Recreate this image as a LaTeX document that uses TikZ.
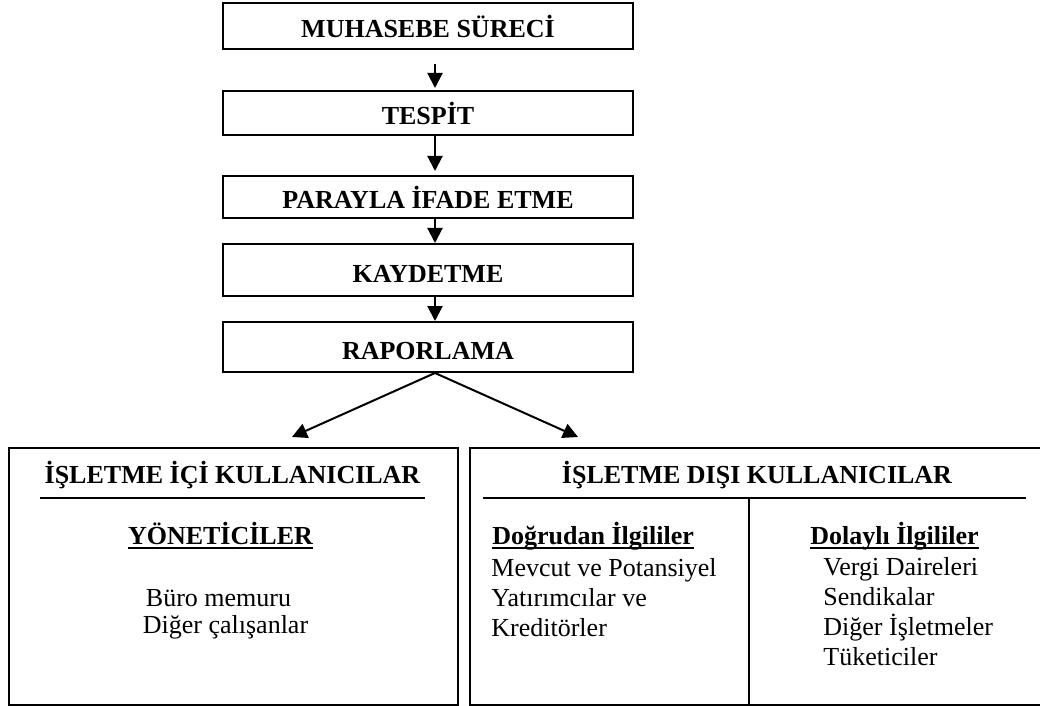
\documentclass[tikz,border=0pt]{standalone}
\usepackage{fontspec}
\setmainfont{Liberation Serif}
\usetikzlibrary{arrows.meta, positioning}

\begin{document}
\begin{tikzpicture}[x=0.5pt, y=-0.5pt,
	surec/.style={draw, line width=1pt, minimum width=205pt, inner sep=0pt, text height=12pt, text depth=0pt, font=\fontsize{13}{15}\selectfont\bfseries},
	kutu/.style={draw, line width=1pt, inner sep=0pt},
	baslik/.style={anchor=base, inner sep=0pt, font=\fontsize{13}{15}\selectfont\bfseries},
	orta/.style={anchor=base, inner sep=0pt, font=\fontsize{13}{15}\selectfont},
	altbaslik/.style={anchor=base west, inner sep=0pt, font=\fontsize{13}{15}\selectfont\bfseries},
	metin/.style={anchor=base west, inner sep=0pt, font=\fontsize{13}{15}\selectfont},
	cizgi/.style={line width=1pt},
	okcizgi/.style={line width=1pt, -{Triangle[length=7.5pt, width=7.5pt]}}]
	\useasboundingbox (0,0) rectangle (1040,706);
	\clip (0,0) rectangle (1040,706);

	% Process steps
	\node[surec, minimum height=23pt] (muhasebe) at (428,26) {MUHASEBE SÜRECİ};
	\node[surec, minimum height=22pt, below=20pt of muhasebe] (tespit) {TESPİT};
	\node[surec, minimum height=21pt, below=19.5pt of tespit] (para) {PARAYLA İFADE ETME};
	\node[surec, minimum height=26pt, below=12pt of para] (kaydet) {KAYDETME};
	\node[surec, minimum height=25pt, below=12pt of kaydet] (rapor) {RAPORLAMA};

	% Step arrows
	\draw[okcizgi] ([xshift=3.5pt, yshift=-7pt]muhasebe.south) -- ([xshift=3.5pt, yshift=1pt]tespit.north);
	\draw[okcizgi] ([xshift=3.5pt]tespit.south) -- ([xshift=3.5pt, yshift=2pt]para.north);
	\draw[okcizgi] ([xshift=3.5pt]para.south) -- ([xshift=3.5pt]kaydet.north);
	\draw[okcizgi] ([xshift=3.5pt]kaydet.south) -- ([xshift=3.5pt]rapor.north);

	% Branch arrows
	\coordinate (solUc) at (292,437);
	\coordinate (sagUc) at (578,437);
	\draw[okcizgi] ([xshift=3.5pt]rapor.south) -- (solUc);
	\draw[okcizgi] ([xshift=3.5pt]rapor.south) -- (sagUc);

	% User boxes
	\node[kutu, minimum width=224.5pt, minimum height=128.5pt] (ic) at (233.5,576.5) {};
	\node[kutu, minimum width=295pt, minimum height=128.5pt] (dis) at (765,576.5) {};

	% Internal users
	\node[baslik] (icBaslik) at (232.5,483) {İŞLETME İÇİ KULLANICILAR};
	\draw[cizgi] (40,498) -- (425,498);
	\node[baslik] (yonetici) at (220.5,544) {YÖNETİCİLER};
	\draw[cizgi] ([yshift=-2pt]yonetici.base west) -- ([yshift=-2pt]yonetici.base east);
	\node[orta] (buro) at (218.5,606) {Büro memuru};
	\node[orta] (diger) at (225.5,633) {Diğer çalışanlar};

	% External users
	\node[baslik] (disBaslik) at (757,483) {İŞLETME DIŞI KULLANICILAR};
	\draw[cizgi] (483,498) -- (1026,498);
	\coordinate (bolme) at (748.5,498);
	\draw[cizgi] (bolme) -- (bolme |- dis.south);

	% Direct
	\node[altbaslik] (dogrudan) at (492,544) {Doğrudan İlgililer};
	\draw[cizgi] ([yshift=-2pt]dogrudan.base west) -- ([yshift=-2pt]dogrudan.base east);
	\node[metin] (mevcut) at (491,576) {Mevcut ve Potansiyel};
	\node[metin] (yatirim) at (491,606) {Yatırımcılar ve};
	\node[metin] (kredi) at (491,636) {Kreditörler};

	% Indirect
	\node[altbaslik] (dolayli) at (810,544) {Dolaylı İlgililer};
	\draw[cizgi] ([yshift=-2pt]dolayli.base west) -- ([yshift=-2pt]dolayli.base east);
	\node[metin] (vergi) at (823,575) {Vergi Daireleri};
	\node[metin] (sendika) at (823,605) {Sendikalar};
	\node[metin] (digerIsl) at (823,635) {Diğer İşletmeler};
	\node[metin] (tuketici) at (823,665) {Tüketiciler};
\end{tikzpicture}
\end{document}
